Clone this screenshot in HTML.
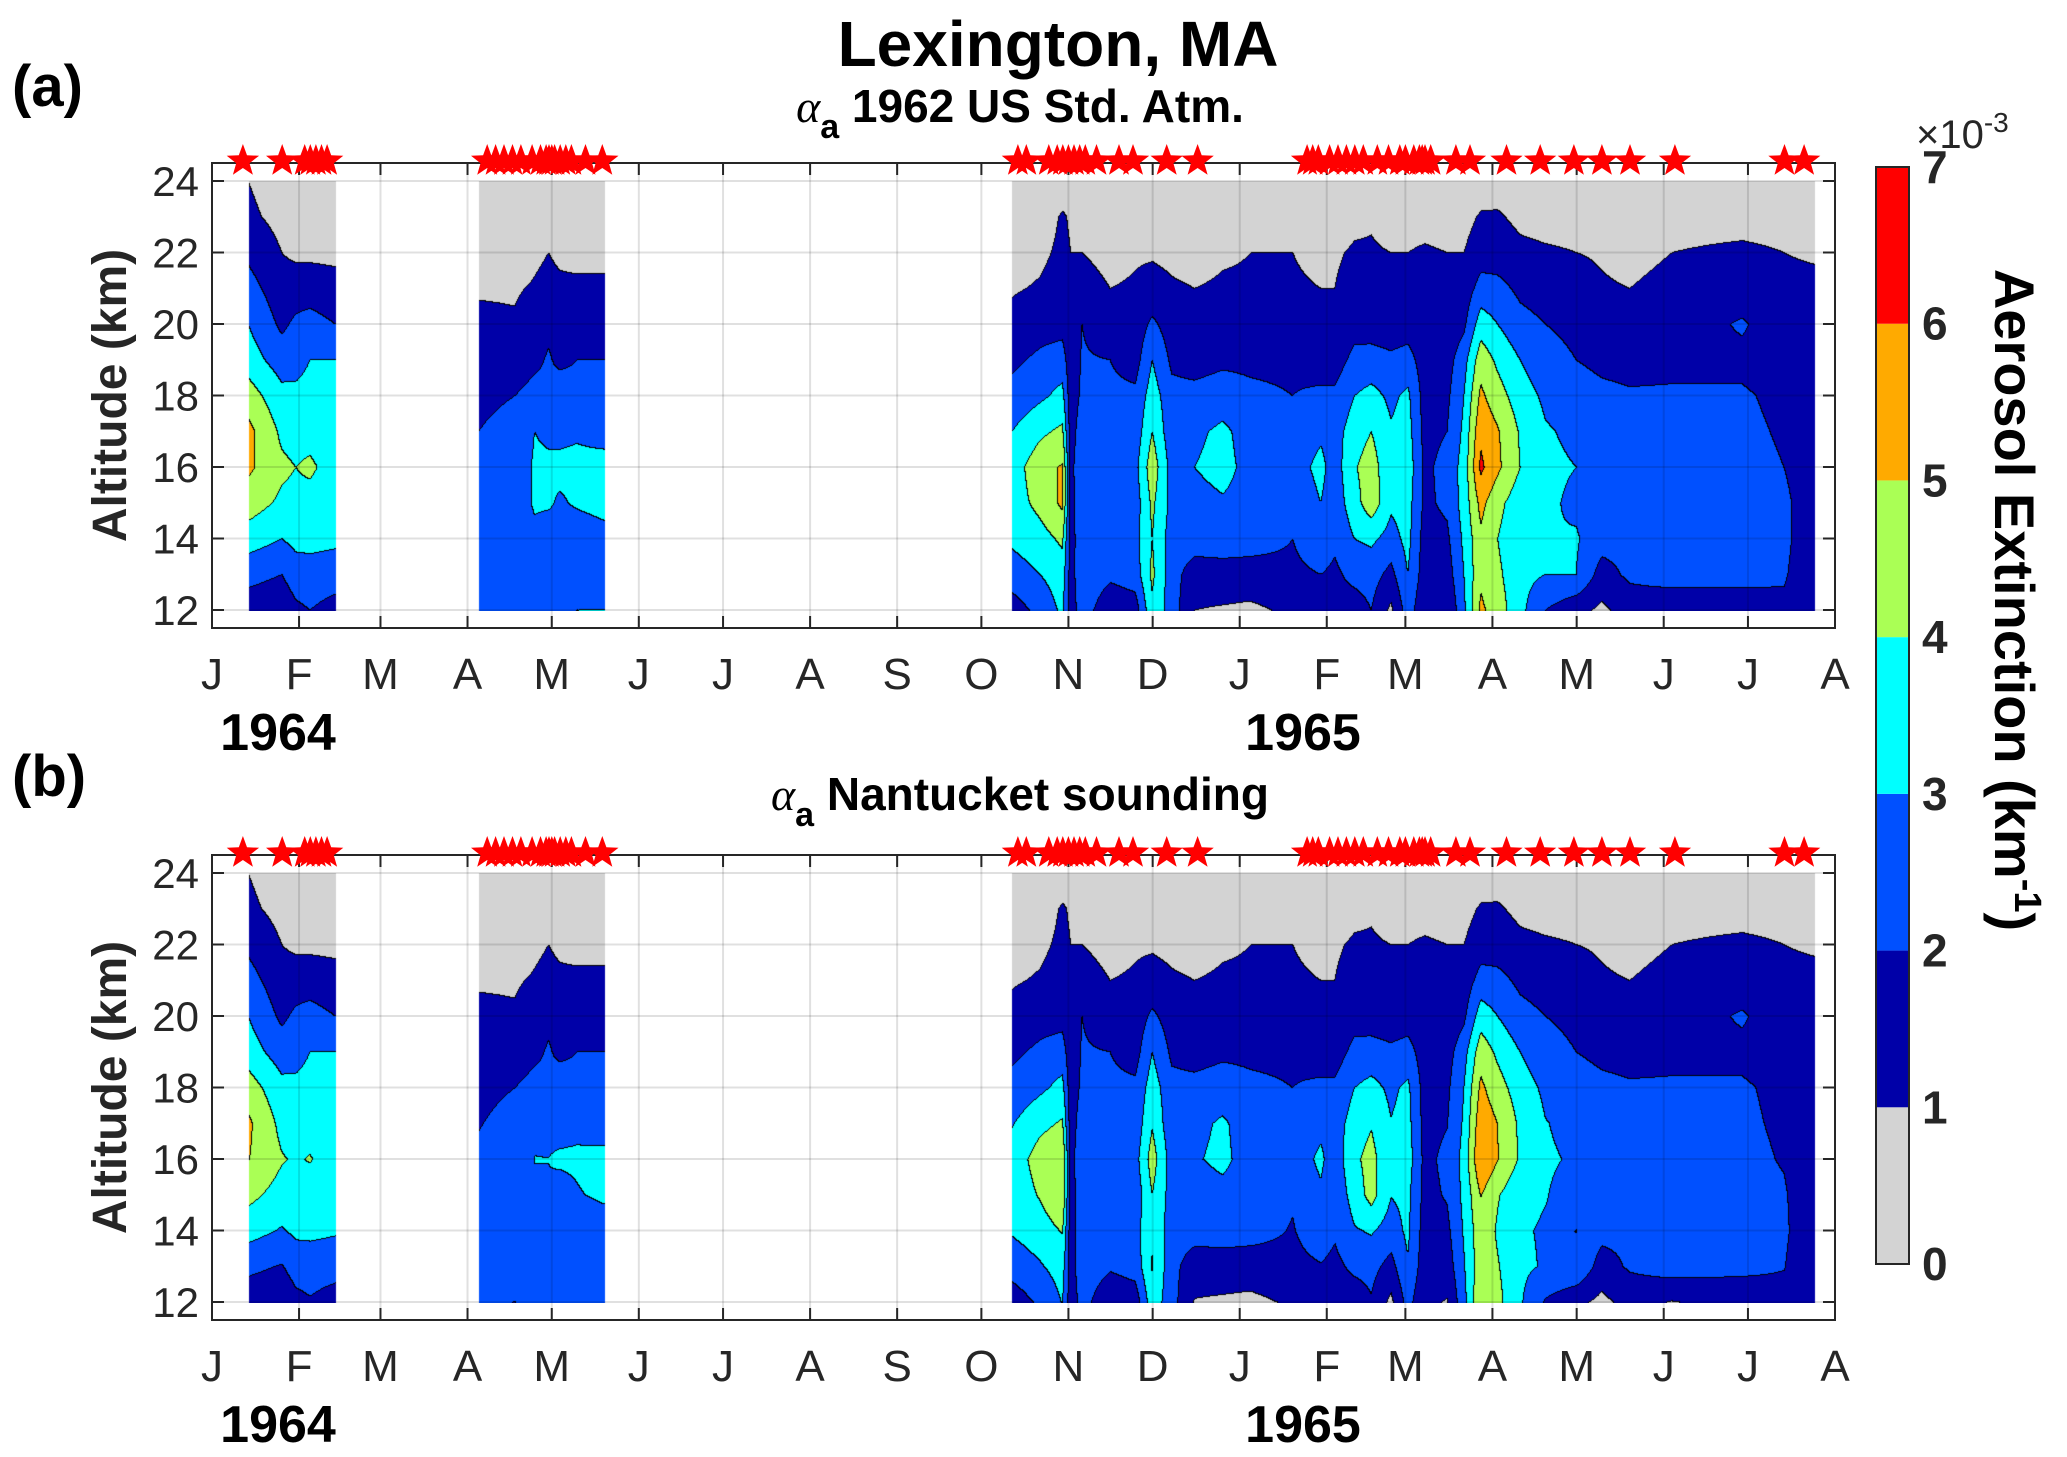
<!DOCTYPE html>
<html><head><meta charset="utf-8">
<style>
html,body{margin:0;padding:0;background:#fff;}
#wrap{position:relative;width:2067px;height:1457px;overflow:hidden;background:#fff;}
canvas{position:absolute;}
svg{position:absolute;left:0;top:0;}
text{font-family:"Liberation Sans Narrow","Liberation Sans",sans-serif;}
</style></head>
<body>
<div id="wrap">
<canvas id="cA"></canvas>
<canvas id="cB"></canvas>
<svg id="svg" width="2067" height="1457"></svg>
</div>
<script>
// ---- data ----
const altitudes = [12,13,14,15,16,17,18,19,20,21,22,23,24];
const windows = [[13,44],[95,140],[285,571]];
const profileDays = [13,25,30,35,44, 95,108,115,120,124,130,140,
 285,295,303,306,310,320,329,335,342,350,360,370,385,395,400,407,413,420,426,432,440,446,452,458,466,475,486,495,505,520,545,560,571];
const profilesA = [
 [1.5,2.3,3.5,4.5,5.2,5.3,4.5,3.5,3.0,2.4,1.8,1.2,1.0],
 [1.3,2.0,3.0,3.8,4.2,3.8,3.3,2.5,1.8,1.4,1.0,0.7,0.5],
 [1.8,2.5,3.3,3.7,4.0,3.6,3.2,2.7,2.2,1.5,0.8,0.5,0.4],
 [2.0,2.6,3.3,3.6,4.2,3.6,3.3,3.0,2.4,1.5,0.8,0.5,0.4],
 [1.6,2.5,3.2,3.4,3.5,3.4,3.6,3.0,2.0,1.3,0.8,0.4,0.3],
 [2.2,2.3,2.3,2.2,2.2,2.0,1.8,1.5,1.2,0.9,0.5,0.4,0.3],
 [2.1,2.2,2.4,2.5,2.5,2.3,2.0,1.5,1.1,0.9,0.4,0.3,0.3],
 [2.3,2.6,2.8,3.1,3.1,3.0,2.3,1.8,1.5,1.1,0.8,0.4,0.3],
 [2.1,2.3,2.6,3.1,3.1,2.9,2.2,2.1,1.8,1.3,1.0,0.6,0.3],
 [2.5,2.7,2.6,2.9,3.2,2.8,2.5,1.8,1.5,1.2,0.8,0.3,0.2],
 [3.0,2.8,2.5,3.1,3.2,2.9,2.3,2.0,1.5,1.2,0.7,0.4,0.3],
 [3.0,2.6,2.7,3.3,3.3,2.7,2.4,2.0,1.6,1.2,0.7,0.4,0.3],
 [1.5,2.5,3.2,3.5,3.5,3.0,2.3,1.8,1.3,0.9,0.5,0.4,0.3],
 [2.3,3.0,3.6,4.3,4.6,3.8,2.8,2.2,1.6,1.1,0.8,0.5,0.4],
 [3.2,3.5,4.2,5.2,5.1,4.2,3.3,2.5,1.6,1.4,1.2,1.1,0.5],
 [1.5,1.6,1.5,1.6,1.7,1.5,1.4,1.3,1.2,1.1,1.0,0.9,0.5],
 [2.5,2.7,2.8,2.8,2.8,2.6,2.2,2.1,2.0,1.4,1.0,0.7,0.4],
 [1.3,2.2,2.4,2.6,2.7,2.5,2.2,2.0,1.3,1.0,0.7,0.4,0.3],
 [1.5,2.5,2.7,2.5,2.7,2.4,2.2,1.6,1.4,1.1,0.9,0.5,0.3],
 [3.8,4.2,4.0,4.2,4.6,4.0,3.5,3.0,2.2,1.3,0.9,0.5,0.3],
 [2.5,2.4,2.5,2.7,2.6,2.3,2.3,1.8,1.5,1.1,0.8,0.4,0.3],
 [1.0,1.5,2.5,2.7,3.0,2.8,2.3,1.6,1.3,1.0,0.7,0.4,0.3],
 [0.9,1.6,2.5,2.9,3.3,3.2,2.5,1.8,1.4,1.1,0.9,0.5,0.3],
 [0.8,1.6,2.4,2.7,2.7,2.6,2.2,1.8,1.4,1.1,1.0,0.5,0.3],
 [1.2,1.8,2.0,2.2,2.5,2.3,2.0,1.8,1.3,1.1,1.0,0.5,0.3],
 [1.4,2.0,2.6,3.0,3.3,2.8,2.2,1.5,1.2,1.0,0.8,0.6,0.3],
 [1.7,1.8,2.2,2.4,2.5,2.6,2.2,1.5,1.2,1.0,0.9,0.6,0.3],
 [1.5,2.3,3.0,3.6,3.9,3.5,3.0,2.3,1.6,1.3,1.1,0.8,0.4],
 [2.0,2.4,3.2,4.6,4.5,4.0,3.3,2.4,1.5,1.3,1.1,0.9,0.5],
 [0.8,1.7,2.6,3.2,3.2,3.1,2.8,2.2,1.4,1.2,1.0,0.6,0.4],
 [2.5,3.0,3.3,3.4,3.6,3.4,3.2,2.4,1.5,1.2,1.0,0.7,0.4],
 [1.2,1.5,1.6,1.8,1.8,1.7,1.6,1.5,1.4,1.2,1.1,0.7,0.4],
 [1.0,1.5,1.8,2.2,2.3,2.0,1.8,1.6,1.3,1.1,1.0,0.6,0.4],
 [2.8,3.0,3.2,3.4,3.4,3.2,3.0,2.6,1.8,1.4,1.0,0.7,0.4],
 [5.2,4.8,4.8,5.3,6.2,5.8,5.2,4.6,3.5,2.4,1.5,1.1,0.5],
 [4.5,4.2,4.0,4.3,5.2,5.1,4.4,3.8,3.0,2.3,1.5,1.1,0.6],
 [3.3,3.3,3.2,3.4,4.0,3.9,3.5,3.0,2.3,1.8,1.2,0.8,0.4],
 [2.0,3.0,3.0,3.2,3.2,3.1,2.8,2.3,2.0,1.6,1.1,0.7,0.4],
 [1.3,3.0,3.1,2.8,3.0,2.8,2.4,2.0,1.8,1.4,1.0,0.7,0.4],
 [0.8,1.6,2.4,2.5,2.5,2.4,2.2,1.8,1.4,1.1,0.9,0.6,0.3],
 [1.4,2.2,2.3,2.4,2.4,2.3,2.1,1.7,1.3,1.0,0.7,0.5,0.3],
 [1.0,2.6,2.4,2.4,2.4,2.3,2.1,1.8,1.5,1.3,1.0,0.8,0.4],
 [1.5,2.3,2.4,2.4,2.3,2.2,2.1,1.8,2.1,1.5,1.1,0.8,0.4],
 [1.8,2.1,2.2,2.2,2.0,1.9,1.8,1.6,1.5,1.2,1.0,0.8,0.4],
 [1.2,1.3,1.4,1.4,1.4,1.4,1.4,1.3,1.3,1.2,0.9,0.5,0.4]
];
const scaleB = [0.95,0.97,0.97,0.95,0.97,0.98,1.0,1.0,1.0,1.0,1.0,1.0,1.0];
const starDays = [11,25,33,35,37,39,41,98,101,104,107,110,114,117,119,120,121,122,124,126,128,133,139,
 287,290,298,301,303,305,307,309,311,315,323,328,340,351,390,392,394,398,401,404,407,410,415,419,423,425,428,430,431,432,434,443,448,461,473,485,495,505,521,560,567];
const monthLabels = ["J","F","M","A","M","J","J","A","S","O","N","D","J","F","M","A","M","J","J","A"];
const monthDays = [0,31,60,91,121,152,182,213,244,274,305,335,366,397,425,456,486,517,547,578];
const yTicks = [12,14,16,18,20,22,24];
const cbTicks = [0,1,2,3,4,5,6,7];
const levelColors = ["#d3d3d3","#0000a8","#0050ff","#00ffff","#aaff55","#ffaa00","#ff0000"];

// ---- geometry ----
const X0=212, X1=1835, DAY0=0, DAY1=578;
const OFFB=692;
const panels=[{top:163,off:0,canvas:"cA",scale:null,id:'a'},
              {top:163+OFFB,off:OFFB,canvas:"cB",scale:scaleB,id:'b'}];
function xs(d){return X0+(d-DAY0)*(X1-X0)/(DAY1-DAY0);}
function ys(a,p){return p.off+610-(a-12)*(610-181)/12;}
const NS="http://www.w3.org/2000/svg";
const svg=document.getElementById('svg');
function el(tag,attrs,txt){const e=document.createElementNS(NS,tag);for(const k in attrs)e.setAttribute(k,attrs[k]);if(txt!==undefined)e.textContent=txt;svg.appendChild(e);return e;}

function valueAt(day,alt,p){
  const w=windows.find(w=>day>=w[0]&&day<=w[1]); if(!w) return null;
  const idx=[];for(let i=0;i<profileDays.length;i++) if(profileDays[i]>=w[0]&&profileDays[i]<=w[1]) idx.push(i);
  let i0=idx[0],i1=idx[0];
  for(let k=0;k<idx.length-1;k++){if(day>=profileDays[idx[k]]&&day<=profileDays[idx[k+1]]){i0=idx[k];i1=idx[k+1];break;}}
  if(day>profileDays[idx[idx.length-1]]){i0=i1=idx[idx.length-1];}
  const t=i1===i0?0:(day-profileDays[i0])/(profileDays[i1]-profileDays[i0]);
  const fa=(alt-12); let a0=Math.floor(fa); if(a0>11)a0=11; if(a0<0)a0=0; const u=fa-a0;
  function pv(i){let v=profilesA[i][a0]*(1-u)+profilesA[i][a0+1]*u; if(p.scale) v*=(p.scale[a0]*(1-u)+p.scale[a0+1]*u); return v;}
  return pv(i0)*(1-t)+pv(i1)*t;
}

panels.forEach(p=>{
  const cv=document.getElementById(p.canvas);
  const cy0=Math.round(ys(24,p)), W=X1-X0, H=Math.round(ys(12,p)-ys(24,p))+1;
  cv.width=W; cv.height=H; cv.style.left=X0+'px'; cv.style.top=cy0+'px';
  const ctx=cv.getContext('2d');
  const img=ctx.createImageData(W,H);
  const lv=new Int8Array(W*H);
  for(let x=0;x<W;x++){
    const day=(x+0.5)*(DAY1-DAY0)/(X1-X0);
    for(let y=0;y<H;y++){
      const alt=24-y*12/(H-1);
      const v=valueAt(day,alt,p);
      lv[y*W+x]= v===null?-1:Math.max(0,Math.min(6,Math.floor(v)));
    }
  }
  const rgb=levelColors.map(c=>[parseInt(c.substr(1,2),16),parseInt(c.substr(3,2),16),parseInt(c.substr(5,2),16)]);
  for(let y=0;y<H;y++)for(let x=0;x<W;x++){
    const i=y*W+x,L=lv[i];let c=[255,255,255];
    if(L>=0){c=rgb[L];
      const r=x+1<W?lv[i+1]:L, d=y+1<H?lv[i+W]:L;
      if((r>=0&&r!==L)||(d>=0&&d!==L)) c=[0,0,0];}
    img.data[i*4]=c[0];img.data[i*4+1]=c[1];img.data[i*4+2]=c[2];img.data[i*4+3]=255;
  }
  ctx.putImageData(img,0,0);

  const top=p.top, bot=p.off+628;
  monthDays.forEach((d,i)=>{if(i>0&&i<monthDays.length-1){
    const g=el('line',{x1:xs(d),x2:xs(d),y1:top,y2:bot,stroke:'#000','stroke-opacity':0.12,'stroke-width':2});
    
    }});
  yTicks.forEach(a=>{
    const g=el('line',{x1:X0,x2:X1,y1:ys(a,p),y2:ys(a,p),stroke:'#000','stroke-opacity':0.12,'stroke-width':2});
    
    });
  const box=el('rect',{x:X0,y:top,width:X1-X0,height:bot-top,fill:'none',stroke:'#262626','stroke-width':2});
  
  
  monthDays.forEach((d,i)=>{
    const x=xs(d);
    const t1=el('line',{x1:x,x2:x,y1:bot,y2:bot-12,stroke:'#262626','stroke-width':2});
    
    
    const t2=el('line',{x1:x,x2:x,y1:top,y2:top+12,stroke:'#262626','stroke-width':2});
    
    
    const tl=el('text',{x:x,y:p.off+689,'font-size':44,'text-anchor':'middle',fill:'#262626'},monthLabels[i]);
    
    
  });
  yTicks.forEach(a=>{
    const y=ys(a,p);
    const t1=el('line',{x1:X0,x2:X0+12,y1:y,y2:y,stroke:'#262626','stroke-width':2});
    
    
    const t2=el('line',{x1:X1,x2:X1-12,y1:y,y2:y,stroke:'#262626','stroke-width':2});
    
    
    const tl=el('text',{x:199,y:y+15,'font-size':42,'text-anchor':'end',fill:'#262626'},String(a));
    
    
  });
  const y1=el('text',{x:278,y:p.off+750,'font-size':52,'font-weight':'bold','text-anchor':'middle'},'1964');
  
  
  const y2=el('text',{x:1303,y:p.off+750,'font-size':52,'font-weight':'bold','text-anchor':'middle'},'1965');
  
  
  const yt=el('text',{x:0,y:0,'font-size':48,'font-weight':'bold','text-anchor':'middle',fill:'#262626',transform:`translate(126,${ys(18,p)}) rotate(-90)`},'Altitude (km)');
  
  
  starDays.forEach(d=>{
    const cx=xs(d), cy=top-2, R=17, r=7; const pts=[];
    for(let k=0;k<10;k++){const ang=-Math.PI/2+k*Math.PI/5;const rr=k%2?r:R;pts.push((cx+rr*Math.cos(ang)).toFixed(1)+','+(cy+rr*Math.sin(ang)).toFixed(1));}
    const s=el('polygon',{points:pts.join(' '),fill:'#ff0000'});
    
    
  });
});

// panel labels
const la=el('text',{x:12,y:106,'font-size':58,'font-weight':'bold'},'(a)');


const lb=el('text',{x:12,y:796,'font-size':58,'font-weight':'bold'},'(b)');



// titles
const tt=el('text',{x:1058,y:66,'font-size':64,'font-weight':'bold','text-anchor':'middle'},'Lexington, MA');


function subtitle(cx,base,txt,name){
  const g=el('text',{x:cx,y:base,'font-size':46,'font-weight':'bold','text-anchor':'middle'});
  
  
  const a=document.createElementNS(NS,'tspan');a.setAttribute('font-family','Liberation Serif, serif');a.setAttribute('font-style','italic');a.setAttribute('font-weight','normal');a.textContent='α';g.appendChild(a);
  const b=document.createElementNS(NS,'tspan');b.setAttribute('dy','16');b.setAttribute('font-size','34');b.textContent='a';g.appendChild(b);
  const c=document.createElementNS(NS,'tspan');c.setAttribute('dy','-16');c.textContent=' '+txt;g.appendChild(c);
}
subtitle(1020,122,'1962 US Std. Atm.','subtitle-a');
subtitle(1020,810,'Nantucket sounding','subtitle-b');

// colorbar
const CB_X=1876,CB_W=33,CB_T=167,CB_B=1264;
function cy(v){return CB_B-(v/7)*(CB_B-CB_T);}
levelColors.forEach((c,i)=>{
  const r=el('rect',{x:CB_X,y:cy(i+1),width:CB_W,height:cy(i)-cy(i+1),fill:c});
  
  
});
const cbb=el('rect',{x:CB_X,y:CB_T,width:CB_W,height:CB_B-CB_T,fill:'none',stroke:'#262626','stroke-width':2});


cbTicks.forEach(v=>{
  const l=el('text',{x:1922,y:cy(v)+16,'font-size':46,'font-weight':'bold',fill:'#262626'},String(v));
  
  
});
const ex=el('text',{x:1916,y:148,'font-size':40,fill:'#262626'});


ex.innerHTML='×10<tspan dy="-16" font-size="28">-3</tspan>';
const cbt=el('text',{x:0,y:0,'font-size':56,'font-weight':'bold','text-anchor':'middle',transform:'translate(1995,600) rotate(90)'});


cbt.innerHTML='Aerosol Extinction (km<tspan dy="-20" font-size="38">-1</tspan><tspan dy="20">)</tspan>';
</script>
</body></html>
